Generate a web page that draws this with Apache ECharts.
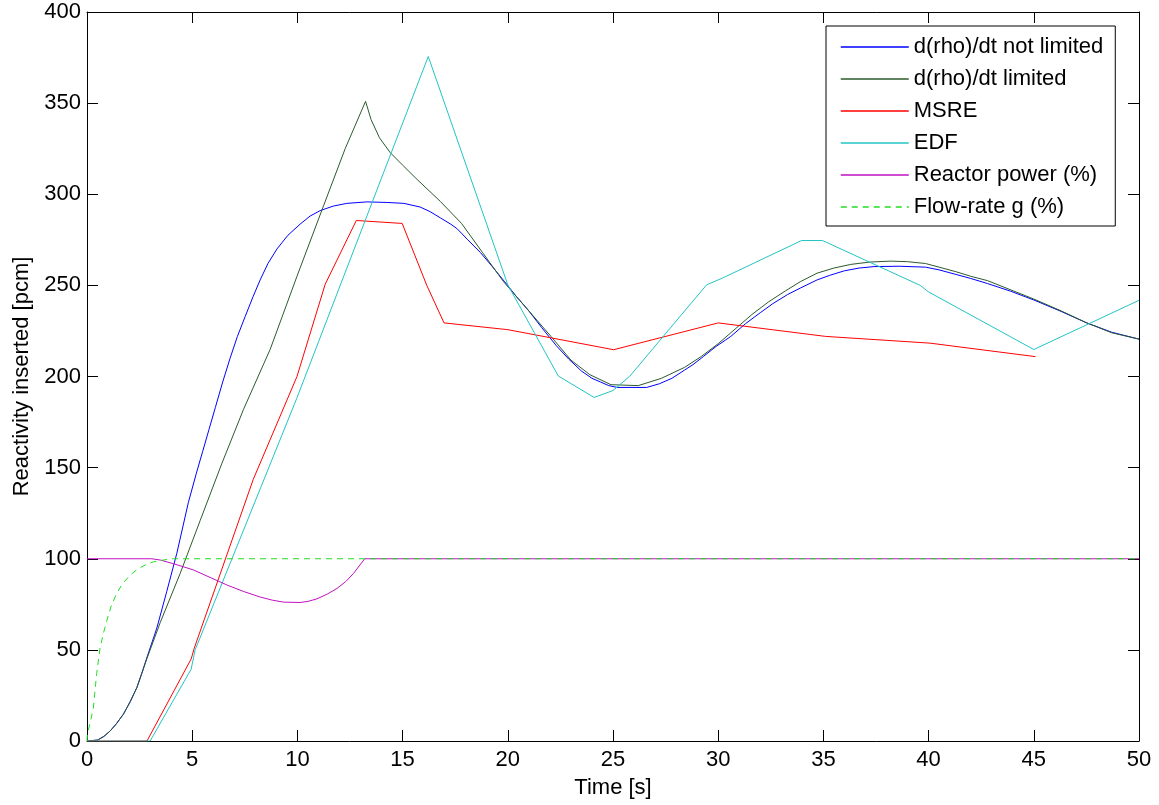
<!DOCTYPE html>
<html>
<head>
<meta charset="utf-8">
<script src="https://cdn.jsdelivr.net/npm/echarts/dist/echarts.min.js"></script>
<style>
  html, body { margin: 0; padding: 0; background: #fff; }
  #chart { width: 1159px; height: 805px; }
</style>
</head>
<body>
<div id="chart"></div>
<script>
// time [s], reactivity [pcm] / percent
var notLimited = [
  [0, 0], [0.5, 0.5], [0.8, 2.5], [1.1, 5.5], [1.4, 9.5], [1.73, 14.7], [2.05, 21.5],
  [2.37, 29.3], [2.6, 37], [2.84, 45.5], [3.32, 62], [3.79, 82], [4.27, 103], [4.82, 131],
  [5.2, 147], [5.5, 159], [5.8, 171], [6.1, 183], [6.45, 197], [6.8, 210], [7.15, 222],
  [7.52, 233], [7.9, 244], [8.23, 253], [8.6, 262], [9.03, 270], [9.55, 277.5], [10.13, 283.6],
  [10.6, 288], [11.08, 291], [11.7, 293.5], [12.35, 295], [13.3, 295.8], [14.25, 295.5],
  [15.06, 295], [15.83, 293], [16.3, 290.5], [16.8, 287], [17.3, 283.5], [17.6, 281],
  [18.1, 275], [18.7, 268], [19.25, 260.5], [19.85, 252], [20.4, 244], [21, 236], [21.6, 227],
  [22.3, 217], [22.9, 209.5], [23.5, 203], [24, 199], [24.4, 197], [24.8, 195], [25.2, 194],
  [26.6, 194], [27.2, 196], [27.8, 199], [28.4, 203.5], [28.8, 206.5], [29.3, 211],
  [29.9, 216.5], [30.6, 222], [31.3, 229], [32, 235], [32.6, 240], [33.3, 245], [33.9, 248.5],
  [34.7, 253], [35.3, 255.5], [36, 258], [36.7, 259.5], [37.4, 260.3], [38.6, 260.5],
  [39.85, 260], [40.5, 258.5], [41.3, 256], [42, 253.8], [42.8, 251], [43.9, 246.8], [45, 242],
  [46.3, 235.7], [47.5, 229.5], [48.7, 224.3], [50, 220.5]
];
var limited = [
  [0, 0], [0.5, 0.5], [0.8, 2.5], [1.1, 5.5], [1.4, 9.5], [1.73, 14.7], [2.05, 21.5],
  [2.37, 29.3], [2.6, 37], [2.84, 45], [3.48, 65], [4.43, 92], [5.38, 121], [6.4, 152],
  [7.44, 182], [8.71, 215], [9.98, 255], [11.24, 293.6], [12.27, 325], [13.24, 351],
  [13.5, 341], [13.9, 331], [14.4, 323], [15, 316], [15.7, 308], [16.8, 296], [17.8, 284],
  [18.8, 268], [19.8, 252], [21, 236], [22.05, 222], [23, 209], [23.9, 201], [24.9, 195.5],
  [26.2, 195], [27.3, 199], [28.4, 205], [29.2, 211], [30, 218], [30.8, 226], [31.6, 234],
  [32.4, 241], [33.2, 247], [33.9, 252], [34.7, 256.7], [35.5, 259.5], [36.3, 261.5],
  [37.2, 262.8], [38.2, 263.3], [39, 263], [39.85, 262], [40.5, 260], [41.3, 257.5],
  [42, 255], [42.8, 252.6], [45, 242.5], [46.3, 236], [47.5, 229.5], [48.7, 224], [50, 220.5]
];
var msre = [
  [0, 0], [2.85, 0], [4.95, 45], [5.1, 51], [7.9, 143.5], [9.98, 200], [11.32, 250.6],
  [12.8, 285.6], [14.98, 284], [16.15, 250], [16.97, 229.4], [20, 225.7], [25.03, 214.7],
  [30, 229.4], [35.1, 222], [40.07, 218.3], [45.08, 210.9]
];
var edf = [
  [0, 0], [3.0, 0], [4.95, 39.4], [5.14, 50], [9.98, 188.3], [16.22, 375.6], [20, 250.3],
  [22.4, 200.3], [24.1, 188.5], [25, 192.3], [25.8, 200.2], [29.45, 250.3], [30.2, 254],
  [33.96, 274.6], [34.96, 274.6], [39.6, 250], [40, 246.4], [45, 214.8], [50, 241.8]
];
var power = [
  [0, 100], [3.08, 100], [3.48, 99.3], [4.1, 97.3], [4.75, 95], [5.07, 93.8], [5.9, 89.5],
  [6.65, 85.6], [7.45, 82], [8.23, 79], [8.8, 77.3], [9.34, 76.2], [10.13, 76], [10.5, 76.6],
  [10.93, 78], [11.4, 80.5], [11.88, 83.7], [12.3, 87.5], [12.67, 92], [13.2, 100], [50, 100]
];
var flowRate = [
  [0, 0], [0.02, 4], [0.15, 10], [0.3, 18], [0.46, 37], [0.62, 51], [0.78, 59], [0.94, 66],
  [1.15, 74], [1.41, 81], [1.7, 86.5], [2.05, 91], [2.45, 94.7], [2.84, 97], [3.15, 98.3],
  [3.48, 99], [3.8, 99.6], [4.11, 100], [50, 100]
];

var seriesNames = ["d(rho)/dt not limited", "d(rho)/dt limited", "MSRE", "EDF", "Reactor power (%)", "Flow-rate g (%)"];
var seriesData = [notLimited, limited, msre, edf, power, flowRate];
var seriesColors = ["#0000ff", "#2b5b2b", "#ff0000", "#22c4c4", "#c010c0", "#22dd22"];

var font = "'Liberation Sans', Arial, Helvetica, sans-serif";

var chart = echarts.init(document.getElementById("chart"));

function makeSeries() {
  var out = [];
  for (var i = 0; i < seriesNames.length; i++) {
    out.push({
      name: seriesNames[i],
      type: "line",
      data: seriesData[i],
      showSymbol: false,
      symbol: "none",
      xAxisIndex: 0,
      yAxisIndex: 0,
      lineStyle: {
        color: seriesColors[i],
        width: 1,
        type: i === 5 ? [6, 5] : "solid",
      },
      itemStyle: { color: seriesColors[i] },
      emphasis: { disabled: true },
    });
  }
  return out;
}

var tickStyle = { color: "#000", width: 1 };

chart.setOption({
  animation: false,
  textStyle: { fontFamily: font },
  grid: { left: 87, right: 20, top: 12, bottom: 64 },
  legend: {
    orient: "vertical",
    left: 826,
    top: 26,
    padding: [10, 12, 8, 14],
    itemWidth: 68,
    itemHeight: 14,
    itemGap: 10,
    backgroundColor: "#fff",
    borderColor: "#000",
    borderWidth: 1,
    itemStyle: { opacity: 0 },
    lineStyle: { width: 1.5 },
    textStyle: { fontSize: 22, color: "#000", fontFamily: font },
    data: seriesNames,
  },
  xAxis: [
    {
      type: "value",
      min: 0,
      max: 50,
      interval: 5,
      name: "Time [s]",
      nameLocation: "middle",
      nameGap: 36,
      nameTextStyle: { fontSize: 22, color: "#000", fontFamily: font },
      axisLine: { show: true, onZero: false, lineStyle: tickStyle },
      axisTick: { show: true, inside: true, length: 11, lineStyle: tickStyle },
      axisLabel: { fontSize: 22, color: "#000", margin: 8, fontFamily: font },
      splitLine: { show: false },
    },
    {
      type: "value",
      position: "top",
      min: 0,
      max: 50,
      interval: 5,
      axisLine: { show: true, onZero: false, lineStyle: tickStyle },
      axisTick: { show: true, inside: true, length: 11, lineStyle: tickStyle },
      axisLabel: { show: false },
      splitLine: { show: false },
    },
  ],
  yAxis: [
    {
      type: "value",
      min: 0,
      max: 400,
      interval: 50,
      name: "Reactivity inserted [pcm]",
      nameLocation: "middle",
      nameGap: 54,
      nameTextStyle: { fontSize: 22, color: "#000", fontFamily: font },
      axisLine: { show: true, onZero: false, lineStyle: tickStyle },
      axisTick: { show: true, inside: true, length: 11, lineStyle: tickStyle },
      axisLabel: { fontSize: 22, color: "#000", margin: 6, fontFamily: font },
      splitLine: { show: false },
    },
    {
      type: "value",
      position: "right",
      min: 0,
      max: 400,
      interval: 50,
      axisLine: { show: true, onZero: false, lineStyle: tickStyle },
      axisTick: { show: true, inside: true, length: 11, lineStyle: tickStyle },
      axisLabel: { show: false },
      splitLine: { show: false },
    },
  ],
  series: makeSeries(),
});
</script>
</body>
</html>
